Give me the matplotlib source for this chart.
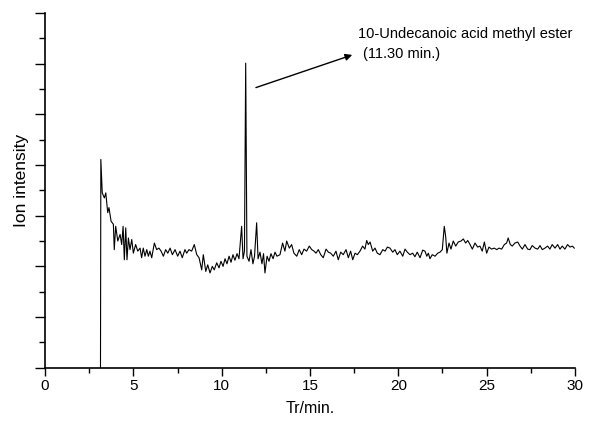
import numpy as np
import matplotlib.pyplot as plt
from matplotlib.ticker import MultipleLocator, NullFormatter

plt.rcParams['font.family'] = ['Liberation Sans', 'DejaVu Sans']

# retention time (min) and ion intensity (arb.)
time = [
    3.14, 3.16, 3.24, 3.36, 3.44, 3.55, 3.62, 3.74, 3.87, 3.92, 4.00, 4.12, 4.25, 4.34, 4.42, 4.49,
    4.57, 4.64, 4.72, 4.81, 4.91, 5.00, 5.13, 5.25, 5.38, 5.47, 5.56, 5.66, 5.76, 5.85, 5.94, 6.04,
    6.19, 6.32, 6.45, 6.57, 6.70, 6.83, 6.95, 7.08, 7.21, 7.36, 7.51, 7.64, 7.77, 7.92, 8.02, 8.15,
    8.30, 8.45, 8.59, 8.72, 8.87, 8.96, 9.10, 9.21, 9.34, 9.47, 9.58, 9.72, 9.85,
    9.96, 10.08, 10.19, 10.30, 10.42, 10.53, 10.64, 10.75, 10.87, 10.98, 11.13, 11.21, 11.29, 11.36,
    11.43, 11.55, 11.66, 11.77, 11.86, 11.98, 12.06, 12.17, 12.28, 12.37, 12.45, 12.57, 12.68, 12.79,
    12.91, 13.02, 13.13,
    13.30, 13.45, 13.58, 13.68, 13.83, 13.96, 14.09, 14.25, 14.39, 14.53, 14.66, 14.81, 14.96, 15.10,
    15.23, 15.34, 15.47, 15.61, 15.75, 15.91, 16.04, 16.17, 16.32, 16.47, 16.60, 16.74, 16.88, 17.04,
    17.17, 17.30, 17.42, 17.55, 17.68, 17.83, 17.98, 18.11, 18.21, 18.30, 18.40, 18.55, 18.68, 18.81,
    18.96, 19.12, 19.25, 19.38, 19.53, 19.68, 19.81, 19.94, 20.09, 20.25, 20.38, 20.51, 20.66, 20.81,
    20.94, 21.07, 21.23, 21.38,
    21.51, 21.61, 21.70, 21.79, 21.92, 22.08, 22.23, 22.36, 22.49, 22.60, 22.68, 22.75, 22.87, 22.98,
    23.11, 23.25, 23.39, 23.55, 23.68, 23.81, 23.93, 24.06, 24.19, 24.34, 24.49, 24.62, 24.75, 24.87,
    25.00, 25.13, 25.28, 25.43, 25.57, 25.70, 25.85, 26.00, 26.13, 26.22, 26.34, 26.45, 26.60, 26.76,
    26.89, 27.02, 27.17, 27.32, 27.45, 27.58, 27.74, 27.89, 28.02, 28.15, 28.30, 28.45, 28.58, 28.71,
    28.87, 29.02, 29.15, 29.28, 29.43, 29.58, 29.72, 29.85, 29.96,
]
intensity = [
    0.00, 4.11, 3.45, 3.35, 3.45, 3.06, 3.16, 2.89, 2.83, 2.33, 2.79, 2.50, 2.63, 2.43, 2.79, 2.13,
    2.76, 2.13, 2.56, 2.33, 2.53, 2.26, 2.43, 2.30, 2.36, 2.17, 2.36, 2.20, 2.33, 2.20, 2.30, 2.17,
    2.46, 2.33, 2.36, 2.30, 2.20, 2.33, 2.26, 2.36, 2.23, 2.33, 2.20, 2.30, 2.17, 2.33, 2.26, 2.33,
    2.30, 2.43, 2.23, 2.17, 1.93, 2.23, 1.90, 2.03, 1.87, 2.00, 1.93, 2.07, 1.97,
    2.10, 2.00, 2.15, 2.05, 2.20, 2.08, 2.23, 2.12, 2.25, 2.15, 2.79, 2.15, 2.30, 6.01,
    2.20, 2.10, 2.33, 2.05, 2.20, 2.86, 2.15, 2.28, 2.05, 2.25, 1.87, 2.20, 2.10, 2.25,
    2.15, 2.28, 2.20,
    2.23, 2.46, 2.30, 2.50, 2.36, 2.43, 2.26, 2.20, 2.33, 2.23, 2.34, 2.30, 2.40, 2.33,
    2.30, 2.26, 2.33, 2.23, 2.17, 2.34, 2.28, 2.26, 2.20, 2.30, 2.13, 2.28, 2.23, 2.33,
    2.17, 2.30, 2.13, 2.26, 2.23, 2.30, 2.40, 2.34, 2.51, 2.43, 2.48, 2.30, 2.36, 2.26,
    2.23, 2.33, 2.30, 2.38, 2.36, 2.28, 2.33, 2.23, 2.30, 2.20, 2.34, 2.28, 2.23, 2.26,
    2.19, 2.28, 2.17, 2.32,
    2.30, 2.20, 2.26, 2.15, 2.23, 2.20, 2.26, 2.28, 2.33, 2.79, 2.59, 2.26, 2.46, 2.34,
    2.50, 2.40, 2.48, 2.50, 2.54, 2.46, 2.51, 2.43, 2.34, 2.46, 2.38, 2.40, 2.30, 2.48,
    2.26, 2.38, 2.34, 2.36, 2.33, 2.36, 2.34, 2.43, 2.46, 2.56, 2.43, 2.40, 2.46, 2.48,
    2.40, 2.34, 2.43, 2.34, 2.33, 2.41, 2.36, 2.34, 2.41, 2.33, 2.36, 2.40, 2.34, 2.43,
    2.36, 2.43, 2.34, 2.40, 2.34, 2.43, 2.38, 2.40, 2.36,
]

label_name = '10-Undecanoic acid methyl ester'
label_time = '(11.30 min.)'

fig = plt.figure(figsize=(6.01, 4.30), dpi=100)
ax = fig.add_axes([0.0749, 0.1449, 0.8818, 0.8249])

ax.plot(time, intensity, color='black', lw=0.8)

ax.set_xlim(0, 30)
ax.set_ylim(0, 7)
ax.xaxis.set_major_locator(MultipleLocator(5))
ax.xaxis.set_minor_locator(MultipleLocator(2.5))
ax.yaxis.set_major_locator(MultipleLocator(1))
ax.yaxis.set_minor_locator(MultipleLocator(0.5))
ax.yaxis.set_major_formatter(NullFormatter())

for side in ['top', 'right']:
    ax.spines[side].set_visible(False)
for side in ['left', 'bottom']:
    ax.spines[side].set_linewidth(1.2)

ax.tick_params(axis='x', which='major', direction='out', length=6, width=1, labelsize=11, pad=2)
ax.tick_params(axis='x', which='minor', direction='out', length=3.5, width=1)
ax.tick_params(axis='y', which='major', direction='out', length=7, width=1)
ax.tick_params(axis='y', which='minor', direction='out', length=4, width=1)

ax.set_xlabel('Tr/min.', fontsize=11.5, labelpad=6)
ax.set_ylabel('Ion intensity', fontsize=12.5)
ax.yaxis.set_label_coords(-0.031, 0.529)

ax.annotate('', xy=(17.54, 6.19), xytext=(11.79, 5.51),
            arrowprops=dict(arrowstyle='-|>', color='black', lw=1, mutation_scale=10))
ax.text(17.73, 6.59, label_name, fontsize=10.5, va='center', ha='left')
ax.text(18.0, 6.19, label_time, fontsize=10.5, va='center', ha='left')

plt.savefig('out.png', dpi=100)
